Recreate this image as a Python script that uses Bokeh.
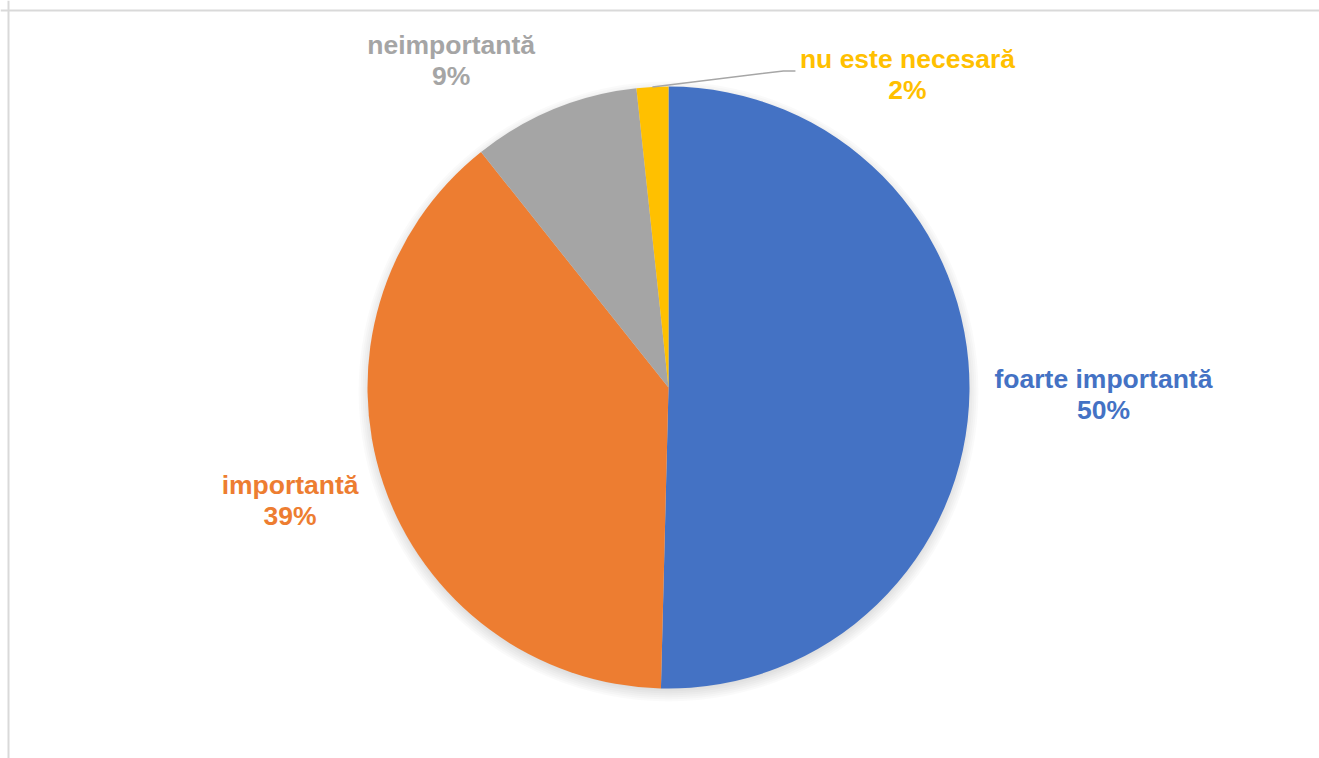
import math
from bokeh.plotting import figure
from bokeh.models import Range1d, Span
from bokeh.core.properties import value
from bokeh.embed import file_html
from bokeh.resources import INLINE

# ---- data ----
categories = ["foarte importantă", "importantă", "neimportantă", "nu este necesară"]
shares = [50.4, 38.9, 9.0, 1.7]
pct_labels = ["50%", "39%", "9%", "2%"]
colors = ["#4472C4", "#ED7D31", "#A5A5A5", "#FFC000"]

# ---- layout ----
W, H = 1319, 758
cx, cy, r = 668, 371, 301
# offset (dx right, dy down, px) of each label's first baseline centre from slice's outer mid point
label_nudge = [(134, 0), (-93, 14), (-103, -52), (255, -16)]
line_gap = 31
text_shift = 12
font = value("Liberation Sans")

p = figure(width=W, height=H, x_range=Range1d(0, W), y_range=Range1d(0, H),
           output_backend="svg", toolbar_location=None, min_border=0)
p.axis.visible = False
p.grid.visible = False
p.outline_line_color = None
p.background_fill_color = "white"
p.border_fill_color = "white"

# chart-area border (top and left visible)
p.add_layout(Span(location=748, dimension="width", line_color="#D9D9D9", line_width=2))
p.add_layout(Span(location=8, dimension="height", line_color="#D9D9D9", line_width=2))

# soft shadow
for k in range(7):
    p.circle(x=[cx], y=[cy - 4], radius=r - 3 + 2 * k, fill_color="black",
             fill_alpha=0.02, line_color=None)

total = sum(shares)
cum = 0.0
for i, (cat, s, pl, col) in enumerate(zip(categories, shares, pct_labels, colors)):
    a0 = math.pi / 2 - 2 * math.pi * cum / total
    a1 = math.pi / 2 - 2 * math.pi * (cum + s) / total
    p.wedge(x=[cx], y=[cy], radius=r, start_angle=a1, end_angle=a0,
            fill_color=col, line_color=None)
    mid = math.pi / 2 - 2 * math.pi * (cum + s / 2) / total
    ox, oy = cx + r * math.cos(mid), cy + r * math.sin(mid)
    dx, dy = label_nudge[i]
    lx, ly = ox + dx, oy - dy
    ty = ly + text_shift
    p.text(x=[lx, lx], y=[ty, ty - line_gap], text=[cat, pl], text_font=font,
           text_font_style="bold", text_font_size="26.5px", text_color=col,
           text_align="center", text_baseline="alphabetic")
    if i == 3:
        p.line(x=[ox, lx - 124, lx - 112], y=[oy, ly, ly], line_color="#A6A6A6", line_width=1.5)
    cum += s

open("out.html", "w").write(file_html(p, INLINE))
